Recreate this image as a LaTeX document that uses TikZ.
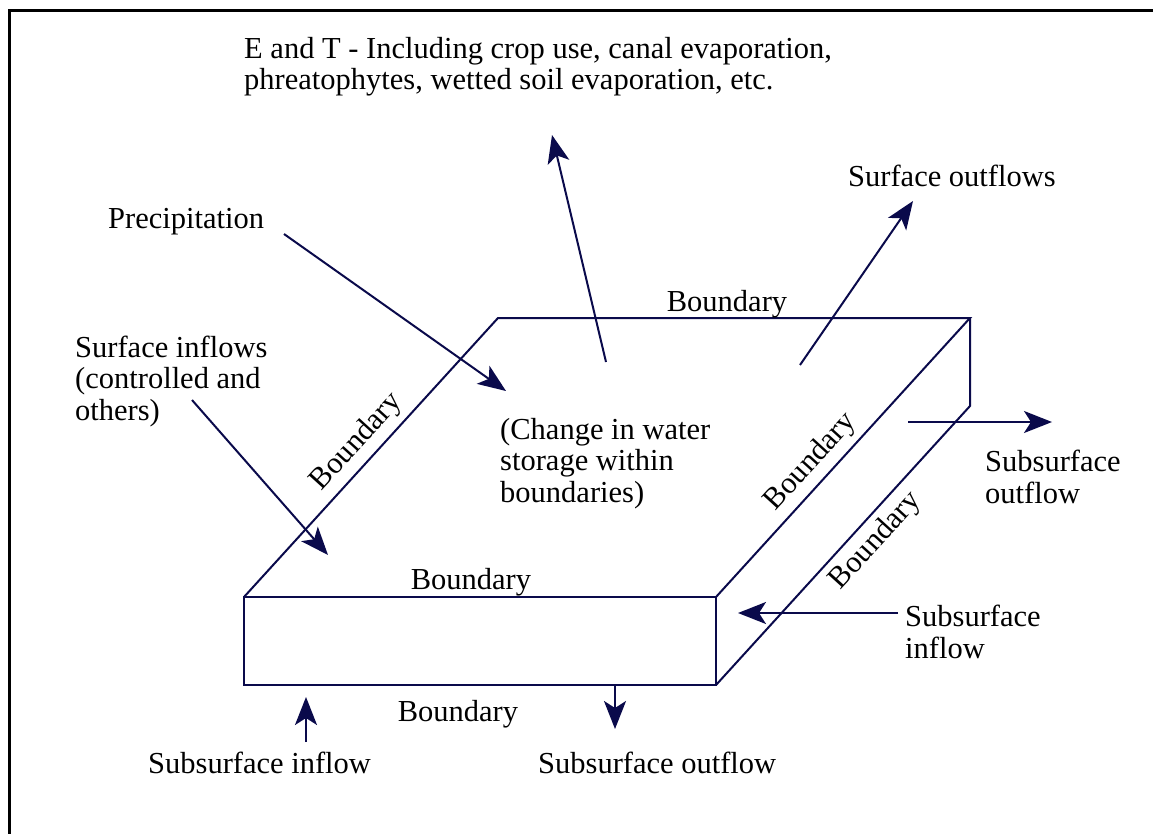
\documentclass[tikz,border=0pt]{standalone}
\usepackage{fontspec}
\setmainfont{Liberation Serif}
\usetikzlibrary{arrows.meta}
\definecolor{inkblue}{RGB}{10,10,75}
\tikzset{
  edge/.style={inkblue, line width=2pt},
  flow/.style={inkblue, line width=2pt, -{Stealth[length=28pt,width=22pt,inset=7pt]}},
  lbl/.style={inner sep=0pt, anchor=base west, align=left, font=\fontsize{30.5}{31.5}\selectfont},
  bnd/.style={lbl, anchor=center, rotate=47.7},
}

\begin{document}
\begin{tikzpicture}[x=1pt, y=-1pt]
  \useasboundingbox (0,0) rectangle (1153,834);
  % frame
  \draw[line width=3.5pt] (9.5,834) -- (9.5,10.5) -- (1153,10.5);

  % box corners
  \coordinate (ftl) at (244,597);
  \coordinate (ftr) at (716,597);
  \coordinate (fbl) at (244,685);
  \coordinate (fbr) at (716,685);
  \coordinate (btl) at (498,318);
  \coordinate (btr) at (970,318);
  \coordinate (bbr) at (970,406);
  \draw[edge] (ftl) rectangle (fbr);
  \draw[edge] (ftl) -- (btl) -- (btr) -- (ftr);
  \draw[edge] (btr) -- (bbr) -- (fbr);

  % labels (multi-line ones sit on the baseline of their last line)
  \node[lbl] (et) at (244,90) {E and T - Including crop use, canal evaporation,\\phreatophytes, wetted soil evaporation, etc.};
  \node[lbl] (precip) at (108,229) {Precipitation};
  \node[lbl] (sin) at (75,420) {Surface inflows\\(controlled and\\others)};
  \node[lbl] (sout) at (848,187) {Surface outflows};
  \node[lbl] (change) at (500,502) {(Change in water\\storage within\\boundaries)};
  \node[lbl] (ssoutr) at (985,503) {Subsurface\\outflow};
  \node[lbl] (ssinr) at (905,658) {Subsurface\\inflow};
  \node[lbl] (ssinb) at (148,773) {Subsurface inflow};
  \node[lbl] (ssoutb) at (538,773) {Subsurface outflow};
  \node[lbl, anchor=base] (btop) at (727,311) {Boundary};
  \node[lbl, anchor=base] (bfront) at (471,589) {Boundary};
  \node[lbl, anchor=base] (bbottom) at (458,721) {Boundary};
  \node[bnd] (bleft) at (357,442) {Boundary};
  \node[bnd] (bmid) at (811,462) {Boundary};
  \node[bnd] (bright) at (876,541) {Boundary};

  % flows
  \coordinate (precipS) at (284,234);
  \coordinate (precipE) at (506,391);
  \coordinate (sinS) at (192,400);
  \coordinate (sinE) at (328,555);
  \coordinate (etS) at (606,362);
  \coordinate (etE) at (552,135);
  \coordinate (soutS) at (800,365);
  \coordinate (soutE) at (913,201);
  \coordinate (ssoutrS) at (908,422);
  \coordinate (ssoutrE) at (1052,422);
  \coordinate (ssinrS) at (898,613);
  \coordinate (ssinrE) at (738,613);
  \coordinate (ssinbS) at (306,742);
  \coordinate (ssinbE) at (306,697);
  \coordinate (ssoutbS) at (615,685);
  \coordinate (ssoutbE) at (615,729);
  \draw[flow] (precipS) -- (precipE);
  \draw[flow] (sinS) -- (sinE);
  \draw[flow] (etS) -- (etE);
  \draw[flow] (soutS) -- (soutE);
  \draw[flow] (ssoutrS) -- (ssoutrE);
  \draw[flow] (ssinrS) -- (ssinrE);
  \draw[flow] (ssinbS) -- (ssinbE);
  \draw[flow] (ssoutbS) -- (ssoutbE);
\end{tikzpicture}
\end{document}
